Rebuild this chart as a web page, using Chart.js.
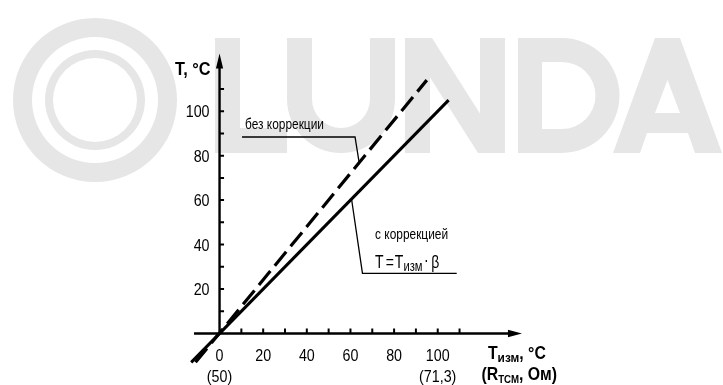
<!DOCTYPE html>
<html>
<head>
<meta charset="utf-8">
<script src="https://cdn.jsdelivr.net/npm/chart.js@4.4.0/dist/chart.umd.min.js"></script>
<style>
  body { margin: 0; background: #fff; }
  canvas { display: block; }
</style>
</head>
<body>
<canvas id="corrChart" width="723" height="385"></canvas>
<script>
// T (result) vs Tизм (measured), °C
const corrX = [-13, 105];
const corrY = [-13, 105];
const rawX = [-11, 95];
const rawY = [-13, 114];

const tickValues = [10, 20, 30, 40, 50, 60, 70, 80, 90, 100, 110];
const xLabelValues = [0, 20, 40, 60, 80, 100];
const yLabelValues = [20, 40, 60, 80, 100];
const ohmValues = [0, 100];
const ohmLabels = ['(50)', '(71,3)'];

const rawNote = 'без коррекции';
const corrNote = 'с коррекцией';

// axis extents (data units)
const axisXFrom = -11.7, axisXTo = 138.6, axisYTo = 126;

// leader lines of the notes (data units)
const rawLeaderX = [10.3, 62.1, 64.1];
const rawLeaderY = [88.4, 88.4, 76.2];
const corrLeaderX = [60.5, 65.5, 108.7];
const corrLeaderY = [60.5, 27, 27];

const FONT = '"Liberation Sans", Arial, sans-serif';

function txt(ctx, s, x, y, size, opts) {
    opts = opts || {};
    ctx.save();
    ctx.font = (opts.bold ? 'bold ' : '') + size + 'px ' + FONT;
    ctx.textAlign = opts.align || 'left';
    ctx.textBaseline = 'alphabetic';
    ctx.translate(x, y);
    ctx.scale(opts.narrow || 0.82, 1);
    ctx.fillText(s, 0, 0);
    const w = ctx.measureText(s).width * (opts.narrow || 0.82);
    ctx.restore();
    return w;
}

const watermark = {
    id: 'watermark',
    beforeDraw(chart) {
        const ctx = chart.ctx;
        ctx.save();
        ctx.fillStyle = '#fff';
        ctx.fillRect(0, 0, chart.width, chart.height);
        ctx.fillStyle = '#e6e6e6';

        // ring
        ctx.beginPath();
        [[82, false], [63, true], [50, false], [42, true]].forEach(([r, ccw]) => {
            ctx.moveTo(95 + r, 100);
            ctx.arc(95, 100, r, 0, Math.PI * 2, ccw);
        });
        ctx.fill('evenodd');

        // L
        ctx.fillRect(215, 38, 25, 115);
        ctx.fillRect(215, 128, 72, 25);

        // U
        ctx.beginPath();
        ctx.moveTo(287, 38);
        ctx.lineTo(287, 99);
        ctx.arc(341, 99, 54, Math.PI, 0, true);
        ctx.lineTo(395, 38);
        ctx.lineTo(370, 38);
        ctx.lineTo(370, 99);
        ctx.arc(341, 99, 29, 0, Math.PI, false);
        ctx.lineTo(312, 38);
        ctx.closePath();
        ctx.fill();

        // N
        ctx.fillRect(405, 38, 25, 115);
        ctx.fillRect(480, 38, 25, 115);
        ctx.beginPath();
        ctx.moveTo(405, 38);
        ctx.lineTo(432, 38);
        ctx.lineTo(505, 153);
        ctx.lineTo(478, 153);
        ctx.closePath();
        ctx.fill();

        // D
        ctx.beginPath();
        ctx.moveTo(518, 38);
        ctx.lineTo(562, 38);
        ctx.arc(562, 95.5, 57.5, -Math.PI / 2, Math.PI / 2, false);
        ctx.lineTo(518, 153);
        ctx.closePath();
        ctx.moveTo(542, 62);
        ctx.lineTo(562, 62);
        ctx.arc(562, 95.5, 33.5, -Math.PI / 2, Math.PI / 2, false);
        ctx.lineTo(542, 129);
        ctx.closePath();
        ctx.fill('evenodd');

        // A
        ctx.beginPath();
        ctx.moveTo(613, 153);
        ctx.lineTo(655, 38);
        ctx.lineTo(680, 38);
        ctx.lineTo(722, 153);
        ctx.lineTo(695, 153);
        ctx.lineTo(688, 133);
        ctx.lineTo(647, 133);
        ctx.lineTo(640, 153);
        ctx.closePath();
        ctx.moveTo(667.5, 80);
        ctx.lineTo(680, 113);
        ctx.lineTo(655, 113);
        ctx.closePath();
        ctx.fill('evenodd');
        ctx.restore();
    }
};

const axes = {
    id: 'axes',
    beforeDatasetsDraw(chart) {
        const ctx = chart.ctx;
        const X = v => chart.scales.x.getPixelForValue(v);
        const Y = v => chart.scales.y.getPixelForValue(v);
        const x0 = X(0), y0 = Y(0);
        ctx.save();
        ctx.strokeStyle = '#000';
        ctx.fillStyle = '#000';
        ctx.lineWidth = 2.4;

        ctx.beginPath();
        ctx.moveTo(X(axisXFrom), y0);
        ctx.lineTo(X(axisXTo) - 8, y0);
        ctx.moveTo(x0, y0 + 1);
        ctx.lineTo(x0, Y(axisYTo) + 8);
        ctx.stroke();

        // arrows
        ctx.beginPath();
        ctx.moveTo(X(axisXTo), y0);
        ctx.lineTo(X(axisXTo) - 14, y0 - 3.8);
        ctx.lineTo(X(axisXTo) - 14, y0 + 3.8);
        ctx.closePath();
        ctx.moveTo(x0, Y(axisYTo));
        ctx.lineTo(x0 - 3.6, Y(axisYTo) + 15);
        ctx.lineTo(x0 + 3.6, Y(axisYTo) + 15);
        ctx.closePath();
        ctx.fill();

        // tick marks
        ctx.lineWidth = 2;
        ctx.beginPath();
        tickValues.forEach(v => {
            ctx.moveTo(X(v), y0);
            ctx.lineTo(X(v), y0 - 5);
            ctx.moveTo(x0, Y(v));
            ctx.lineTo(x0 + 4.5, Y(v));
        });
        ctx.stroke();

        // tick labels
        const lab = { narrow: 0.84 };
        xLabelValues.forEach(v => txt(ctx, String(v), X(v), y0 + 28, 17, Object.assign({ align: 'center' }, lab)));
        yLabelValues.forEach(v => txt(ctx, String(v), x0 - 10, Y(v) + 6, 17, Object.assign({ align: 'right' }, lab)));
        ohmValues.forEach((v, i) => txt(ctx, ohmLabels[i], X(v), y0 + 49, 17, Object.assign({ align: 'center' }, lab)));

        // axis titles
        const b = { bold: true, narrow: 0.88 };
        txt(ctx, 'T, °C', x0 - 9, Y(axisYTo) + 22, 18.5, Object.assign({ align: 'right' }, b));
        let tx = X(axisXTo) - 34;
        tx += txt(ctx, 'T', tx, y0 + 26, 18, b);
        tx += txt(ctx, 'изм', tx, y0 + 29, 13.5, b);
        txt(ctx, ', °C', tx, y0 + 26, 18, b);
        tx = X(axisXTo) - 40.5;
        tx += txt(ctx, '(R', tx, y0 + 47, 18, b);
        tx += txt(ctx, 'ТСМ', tx, y0 + 49.5, 11, b);
        txt(ctx, ', Ом)', tx, y0 + 47, 18, b);
        ctx.restore();
    }
};

const notes = {
    id: 'notes',
    afterDatasetsDraw(chart) {
        const ctx = chart.ctx;
        const X = v => chart.scales.x.getPixelForValue(v);
        const Y = v => chart.scales.y.getPixelForValue(v);
        ctx.save();
        ctx.strokeStyle = '#000';
        ctx.fillStyle = '#000';
        ctx.lineWidth = 1.3;
        [[rawLeaderX, rawLeaderY], [corrLeaderX, corrLeaderY]].forEach(([lx, ly]) => {
            ctx.beginPath();
            lx.forEach((v, i) => i ? ctx.lineTo(X(v), Y(ly[i])) : ctx.moveTo(X(v), Y(ly[i])));
            ctx.stroke();
        });

        txt(ctx, rawNote, X(11.7), Y(91.8), 14.5);
        txt(ctx, corrNote, X(71.3), Y(42.5), 14.5);

        // T = Tизм · β
        let fx = X(71.3);
        const fy = Y(29.3);
        const f = { narrow: 0.8 };
        fx += txt(ctx, 'T', fx, fy, 17.5, f);
        fx += 2;
        fx += txt(ctx, '=', fx, fy, 17.5, f);
        fx += 1;
        fx += txt(ctx, 'T', fx, fy, 17.5, f);
        fx += txt(ctx, 'изм', fx, fy + 3, 14, f);
        fx += 1.5;
        fx += txt(ctx, '·', fx, fy - 2, 17.5, f);
        fx += 2.5;
        txt(ctx, 'β', fx, fy, 17.5, f);
        ctx.restore();
    }
};

new Chart(document.getElementById('corrChart'), {
    type: 'line',
    data: {
        datasets: [{
            label: corrNote,
            data: corrX.map((x, i) => ({ x: x, y: corrY[i] })),
            borderColor: '#000',
            borderWidth: 3,
            pointRadius: 0,
            borderCapStyle: 'butt'
        }, {
            label: rawNote,
            data: rawX.map((x, i) => ({ x: x, y: rawY[i] })),
            borderColor: '#000',
            borderWidth: 3.2,
            borderDash: [18, 7],
            pointRadius: 0,
            borderCapStyle: 'butt'
        }]
    },
    options: {
        responsive: false,
        animation: false,
        events: [],
        layout: { padding: { left: 189, right: 198, top: 49, bottom: 16 } },
        scales: {
            x: { type: 'linear', min: -14, max: 140, display: false },
            y: { type: 'linear', min: -16, max: 128, display: false }
        },
        plugins: {
            legend: { display: false },
            tooltip: { enabled: false }
        }
    },
    plugins: [watermark, axes, notes]
});
</script>
</body>
</html>
